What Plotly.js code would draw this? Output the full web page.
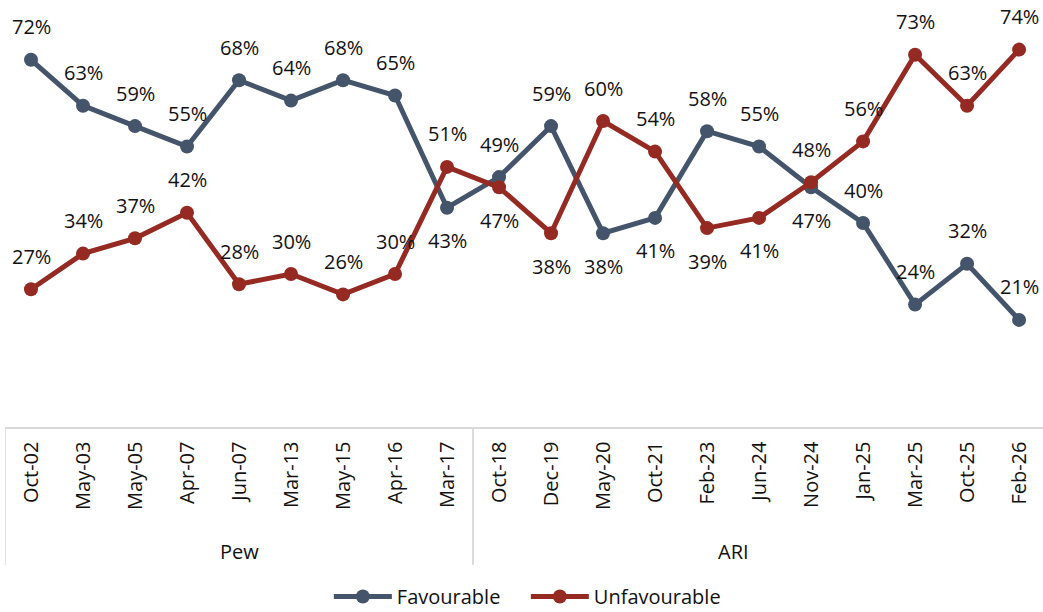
<!DOCTYPE html>
<html>
<head>
<meta charset="utf-8">
<script src="https://cdn.plot.ly/plotly-3.0.1.min.js"></script>
<style>html,body{margin:0;padding:0;background:#fff;}#chart{width:1043px;height:612px;}</style>
</head>
<body>
<div id="chart"></div>
<script>
// ---- data ----
const categories = ["Oct-02","May-03","May-05","Apr-07","Jun-07","Mar-13","May-15","Apr-16","Mar-17",
                    "Oct-18","Dec-19","May-20","Oct-21","Feb-23","Jun-24","Nov-24","Jan-25","Mar-25","Oct-25","Feb-26"];
const sources = ["Pew","Pew","Pew","Pew","Pew","Pew","Pew","Pew","Pew",
                 "ARI","ARI","ARI","ARI","ARI","ARI","ARI","ARI","ARI","ARI","ARI"];
const favourable   = [72,63,59,55,68,64,68,65,43,49,59,38,41,58,55,47,40,24,32,21];
const unfavourable = [27,34,37,42,28,30,26,30,51,47,38,60,54,39,41,48,56,73,63,74];

// ---- label placement (style) ----
const favPos   = [1,1,1,1,1,1,1,1,-1, 1,1,-1,-1,1,1,-1,1,1,1,1];
const unfavPos = [1,1,1,1,1,1,1,1,1, -1,-1,1,1,-1,-1,1,1,1,1,1];

const favColor = "#44546a";
const unfavColor = "#952a22";
const FONT = "Open Sans, Noto Sans, sans-serif";

const xIdx = categories.map((_, i) => i);

const traces = [
  {x: xIdx, y: favourable, name: "Favourable", type: "scatter", mode: "lines+markers",
   line: {color: favColor, width: 5}, marker: {color: favColor, size: 14}, cliponaxis: false},
  {x: xIdx, y: unfavourable, name: "Unfavourable", type: "scatter", mode: "lines+markers",
   line: {color: unfavColor, width: 5}, marker: {color: unfavColor, size: 14}, cliponaxis: false}
];

const annotations = [];
function addLabels(vals, pos) {
  vals.forEach((v, i) => {
    annotations.push({x: i, y: v, xref: "x", yref: "y", text: v + "%", showarrow: false,
      yshift: pos[i] * 33, font: {family: FONT, size: 20, color: "#111"}});
  });
}
addLabels(favourable, favPos);
addLabels(unfavourable, unfavPos);

// group labels
const groups = [...new Set(sources)];
const groupX = {"Pew": null, "ARI": 13.5};
const shapes = [];
groups.forEach(g => {
  const idx = sources.map((s, i) => s === g ? i : -1).filter(i => i >= 0);
  const first = idx[0], last = idx[idx.length - 1];
  const cx = groupX[g] !== null ? groupX[g] : (first + last) / 2;
  annotations.push({x: cx, y: -0.304, xref: "x", yref: "paper", text: g, showarrow: false,
    yanchor: "middle", font: {family: FONT, size: 20, color: "#111"}});
  shapes.push({type: "line", xref: "x", yref: "paper", x0: first - 0.5, x1: first - 0.5,
    y0: 0, y1: -0.338, line: {color: "#d9d9d9", width: 1.5}});
  shapes.push({type: "line", xref: "x", yref: "paper", x0: last + 0.5, x1: last + 0.5,
    y0: 0, y1: -0.338, line: {color: "#d9d9d9", width: 1.5}});
});

const layout = {
  width: 1043, height: 612,
  margin: {l: 5, r: 0, t: 19, b: 185, autoexpand: false},
  paper_bgcolor: "#fff", plot_bgcolor: "#fff",
  showlegend: true,
  legend: {orientation: "h", x: 0.312, xanchor: "left", y: -0.4634, yanchor: "bottom",
           font: {family: FONT, size: 20, color: "#111"}, itemwidth: 58, traceorder: "normal",
           entrywidth: 124, entrywidthmode: "pixels", bgcolor: "rgba(0,0,0,0)"},
  xaxis: {range: [-0.5, 19.46], tickmode: "array", tickvals: xIdx, ticktext: categories,
          tickangle: -90, showgrid: false, zeroline: false, showline: true, linecolor: "#d9d9d9",
          linewidth: 1.5, ticks: "", ticklabelstandoff: 5, automargin: false,
          tickfont: {family: FONT, size: 20, color: "#111"}, fixedrange: true},
  yaxis: {range: [0, 80], visible: false, showgrid: false, zeroline: false, fixedrange: true},
  annotations: annotations,
  shapes: shapes,
  font: {family: FONT}
};

Plotly.newPlot("chart", traces, layout, {displayModeBar: false, staticPlot: true});
</script>
</body>
</html>
